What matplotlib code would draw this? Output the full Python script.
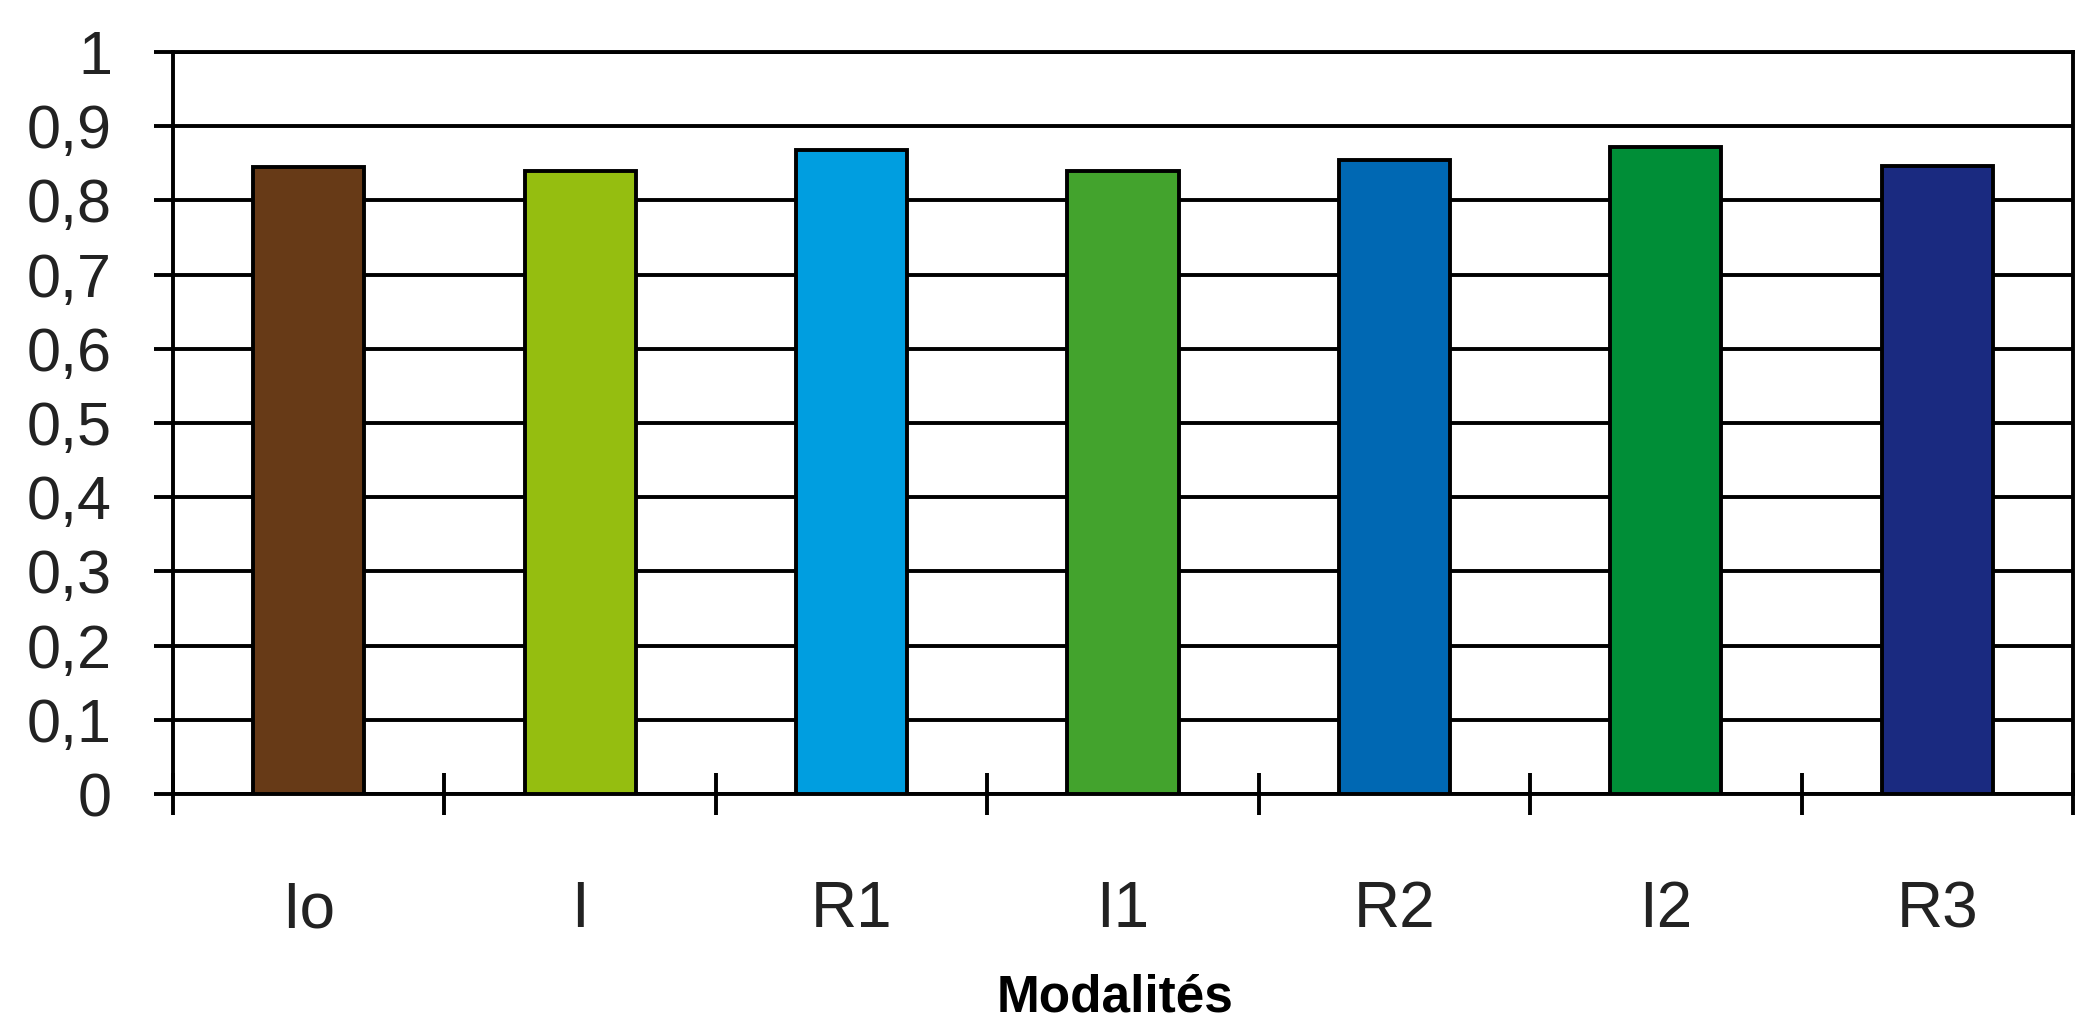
import numpy as np
import matplotlib
matplotlib.use("Agg")
from matplotlib import pyplot as plt

# Values per modality
categories = ["Io", "I", "R1", "I1", "R2", "I2", "R3"]
values = [0.845, 0.840, 0.868, 0.840, 0.854, 0.872, 0.846]
colors = ["#673A17", "#95BE10", "#009EE0", "#43A32D", "#0068B3", "#008E37", "#1A2A80"]

y_ticks = [0, 0.1, 0.2, 0.3, 0.4, 0.5, 0.6, 0.7, 0.8, 0.9, 1]
y_labels = ["0", "0,1", "0,2", "0,3", "0,4", "0,5", "0,6", "0,7", "0,8", "0,9", "1"]

narrow = ["Liberation Sans Narrow", "Liberation Sans", "DejaVu Sans"]

fig = plt.figure(figsize=(20.75, 10.24), dpi=100)
ax = fig.add_axes([0.0834, 0.2246, 0.9156, 0.7246])

x = np.arange(len(categories))
ax.bar(x, values, width=0.41, color=colors, edgecolor="black", linewidth=2.8, zorder=3)

ax.set_xlim(-0.5, len(categories) - 0.5)
ax.set_ylim(0, 1)

# horizontal grid
ax.set_yticks(y_ticks)
ax.set_yticklabels(y_labels, family=narrow, fontsize=44, color="#222222")
ax.yaxis.grid(True, color="black", linewidth=2.8, zorder=1)
ax.tick_params(axis="y", direction="out", length=14, width=2.8, pad=30)

# category boundaries as major ticks, names as minor ticks
ax.set_xticks(np.arange(-0.5, len(categories)), labels=[""] * (len(categories) + 1))
ax.set_xticks(x, labels=categories, minor=True)
ax.tick_params(axis="x", which="major", direction="inout", length=30, width=2.8)
ax.tick_params(axis="x", which="minor", length=0, pad=62)
for lab in ax.get_xticklabels(minor=True):
    lab.set_family(narrow)
    lab.set_fontsize(46)
    lab.set_color("#222222")

for side in ["left", "right", "top", "bottom"]:
    ax.spines[side].set_linewidth(2.8)
    ax.spines[side].set_color("black")

fig.text(0.5375, 2 / 1024, "Modalités", ha="center", va="bottom", fontsize=37,
         fontweight="bold", family=["Liberation Sans", "DejaVu Sans"])

fig.savefig("out.png", dpi=100)
